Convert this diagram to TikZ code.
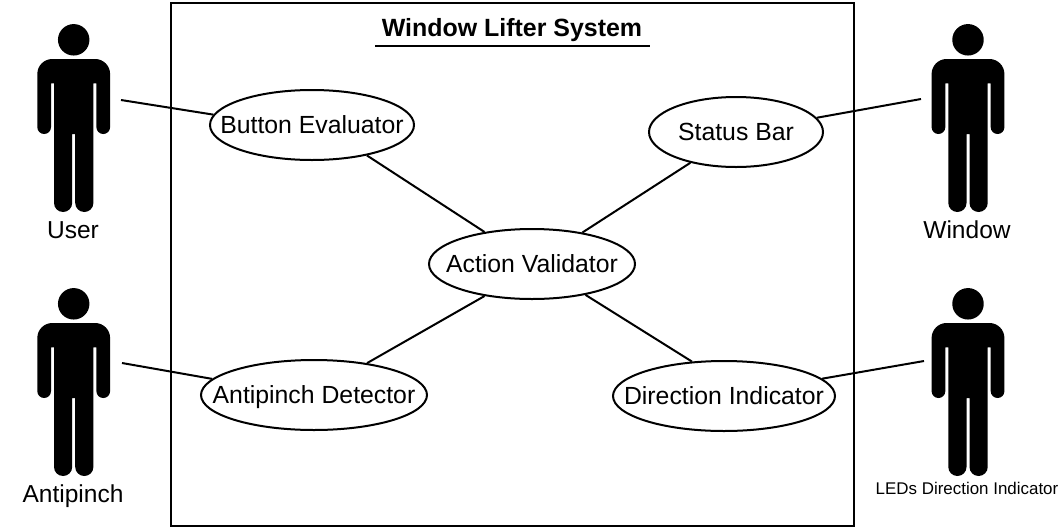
\documentclass[tikz,border=0pt]{standalone}
\usepackage{fontspec}
\setmainfont{Liberation Sans}
\usetikzlibrary{shapes.geometric}
\tikzset{
  x=0.75pt,y=-0.75pt,
  usecase/.style={ellipse,draw=black,line width=1.5pt,fill=white,minimum height=52.5pt,inner sep=0pt,font=\fontsize{18.6}{20}\selectfont},
  assoc/.style={draw=black,line width=1.5pt},
  actorlabel/.style={inner sep=0pt,font=\fontsize{18.4}{20}\selectfont},
  person/.pic={
    \fill (0,15.8) circle[radius=11.8pt];
    \fill (-21.4,35) -- (21.4,35)
      .. controls (29.7,35) and (36.4,41.7) .. (36.4,50)
      -- (36.4,103.2)
      .. controls (36.4,107) and (33.3,110) .. (29.55,110)
      .. controls (25.8,110) and (22.7,107) .. (22.7,103.2)
      -- (22.7,59.3) -- (19.7,59.3) -- (19.7,179)
      .. controls (19.7,184) and (15.6,188) .. (10.6,188)
      .. controls (5.6,188) and (1.5,184) .. (1.5,179)
      -- (1.5,110) -- (-1.5,110) -- (-1.5,179)
      .. controls (-1.5,184) and (-5.6,188) .. (-10.6,188)
      .. controls (-15.6,188) and (-19.7,184) .. (-19.7,179)
      -- (-19.7,59.3) -- (-22.7,59.3) -- (-22.7,103.2)
      .. controls (-22.7,107) and (-25.8,110) .. (-29.55,110)
      .. controls (-33.3,110) and (-36.4,107) .. (-36.4,103.2)
      -- (-36.4,50)
      .. controls (-36.4,41.7) and (-29.7,35) .. (-21.4,35) -- cycle;
  }
}
\newcommand{\uctext}[1]{\makebox[0pt][c]{\raisebox{-6.6pt}[0pt][0pt]{#1}}}
\begin{document}
\begin{tikzpicture}
\useasboundingbox (0,0) rectangle (1063,529);
\node[draw=black,line width=1.5pt,minimum width=512.25pt,minimum height=392.25pt,inner sep=0pt] (system) at (512.5,264) {};
\node[inner sep=0pt,font=\bfseries\fontsize{18.7}{20}\selectfont] (title) at (512,30) {Window Lifter System};
\coordinate (ulL) at (375,46);
\coordinate (ulR) at (650,46);
\draw[assoc] (ulL) -- (ulR);

\pic at (73.7,24) {person};
\pic at (968,24) {person};
\pic at (73.7,288) {person};
\pic at (968,288) {person};

\node[actorlabel] (userL) at (73,230) {User};
\node[actorlabel] (windowL) at (967,230) {Window};
\node[actorlabel] (antiL) at (73,496) {Antipinch};
\node[inner sep=0pt,font=\fontsize{12.7}{14}\selectfont] (ledL) at (967,488) {LEDs Direction Indicator};

\node[usecase,minimum width=153pt] (btn) at (312,125) {\uctext{Button Evaluator}};
\node[usecase,minimum width=130.5pt] (status) at (736,132) {\uctext{Status Bar}};
\node[usecase,minimum width=154.5pt] (action) at (532,264) {\uctext{Action Validator}};
\node[usecase,minimum width=169.5pt] (anti) at (314,395) {\uctext{Antipinch Detector}};
\node[usecase,minimum width=166.5pt] (dir) at (724,396) {\uctext{Direction Indicator}};

\coordinate (userC) at (121,100);
\coordinate (windowC) at (921,99);
\coordinate (antiC) at (122,363);
\coordinate (ledC) at (924,361);

\draw[assoc] (userC) -- (btn.174);
\draw[assoc] (windowC) -- (status.10);
\draw[assoc] (antiC) -- (anti.171);
\draw[assoc] (ledC) -- (dir.10);
\draw[assoc] (btn.-29.5) -- (action.146);
\draw[assoc] (status.214) -- (action.32.5);
\draw[assoc] (anti.31.3) -- (action.214);
\draw[assoc] (dir.133) -- (action.-30.6);
\end{tikzpicture}
\end{document}
